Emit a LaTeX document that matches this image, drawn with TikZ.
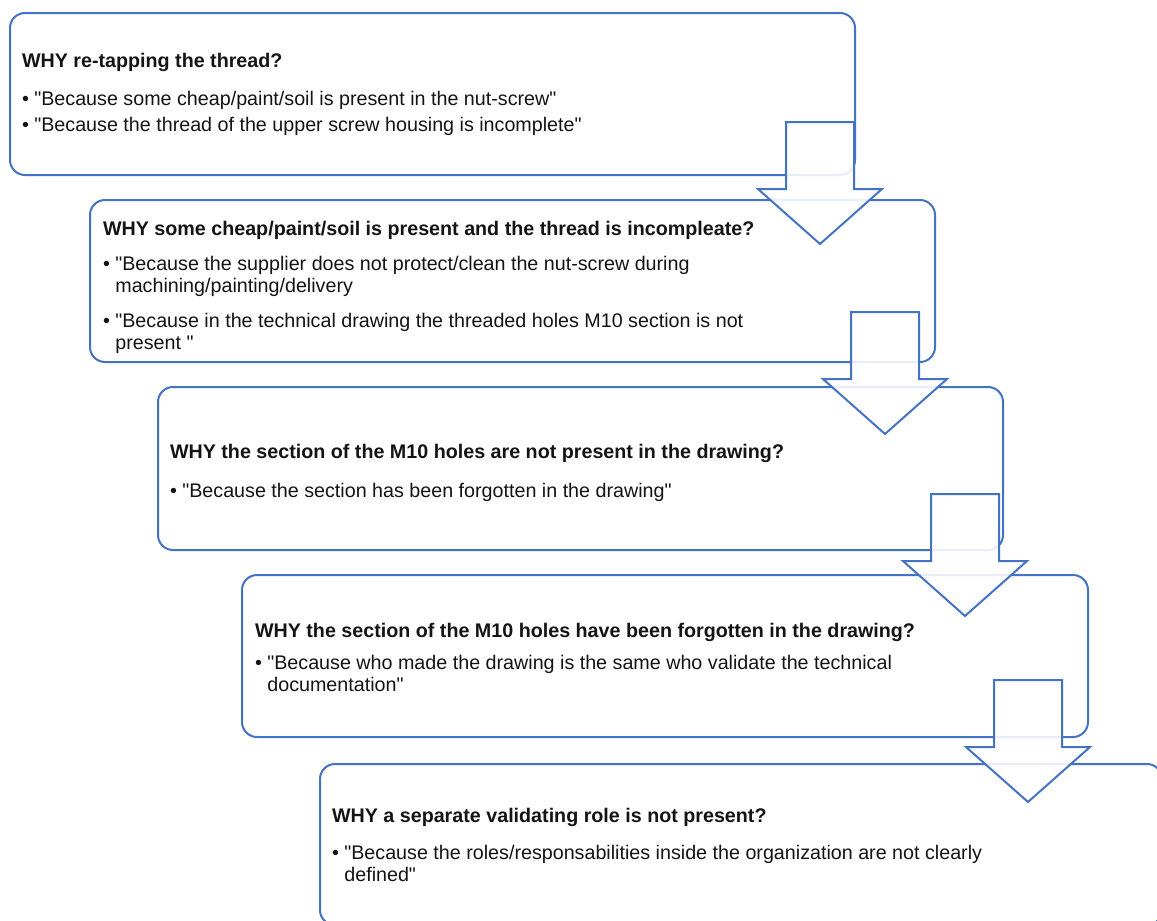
\documentclass[tikz,border=0pt]{standalone}
\usepackage{fontspec}
\setmainfont{Liberation Sans}[Ligatures=TeXOff]
\definecolor{frameblue}{HTML}{4472C4}
\definecolor{ink}{HTML}{141414}
\tikzset{
  whybox/.style={draw=frameblue, line width=2pt, rounded corners=15pt, fill=white,
    anchor=north west, inner sep=0pt, outer sep=0pt},
  txt/.style={anchor=base west, inner sep=0pt, outer sep=0pt, text=ink,
    font=\fontsize{19.7}{23}\selectfont},
  head/.style={txt, font=\fontsize{19.7}{23}\selectfont\bfseries},
  downarrow/.pic={
    \draw[frameblue, line width=2pt, fill=white, fill opacity=0.88, line join=miter]
      (-34,0) -- (34,0) -- (34,67) -- (62,67) -- (0,122) -- (-62,67) -- (-34,67) -- cycle;
  }
}
\newcommand{\hang}{\phantom{•}\ }
\begin{document}
\begin{tikzpicture}[x=1pt, y=-1pt]
\clip (0,0) rectangle (1157,921);
\fill[white] (0,0) rectangle (1157,921);

% the five question boxes
\node[whybox, minimum width=845pt, minimum height=162pt] (box1) at (10,13) {};
\node[whybox, minimum width=845pt, minimum height=162pt] (box2) at (90,200) {};
\node[whybox, minimum width=845pt, minimum height=163pt] (box3) at (158,387) {};
\node[whybox, minimum width=846pt, minimum height=162pt] (box4) at (242,575) {};
\node[whybox, minimum width=842pt, minimum height=161pt] (box5) at (320,764) {};

% block arrows leading from one question to the next
\pic (arrow1) at (820,122) {downarrow};
\pic (arrow2) at (885,312) {downarrow};
\pic (arrow3) at (965,494) {downarrow};
\pic (arrow4) at (1028,680) {downarrow};

% box 1
\node[head] (q1) at (22,67) {WHY re-tapping the thread?};
\node[txt] (q1a) at (22,105) {• "Because some cheap/paint/soil is present in the nut-screw"};
\node[txt] (q1b) at (22,131) {• "Because the thread of the upper screw housing is incomplete"};

% box 2
\node[head] (q2) at (103,235) {WHY some cheap/paint/soil is present and the thread is incompleate?};
\node[txt] (q2a) at (103,270) {• "Because the supplier does not protect/clean the nut-screw during};
\node[txt] (q2b) at (103,292) {\hang machining/painting/delivery};
\node[txt] (q2c) at (103,327) {• "Because in the technical drawing the threaded holes M10 section is not};
\node[txt] (q2d) at (103,349) {\hang present "};

% box 3
\node[head] (q3) at (170,458) {WHY the section of the M10 holes are not present in the drawing?};
\node[txt] (q3a) at (170,497) {• "Because the section has been forgotten in the drawing"};

% box 4
\node[head] (q4) at (255,637) {WHY the section of the M10 holes have been forgotten in the drawing?};
\node[txt] (q4a) at (255,669) {• "Because who made the drawing is the same who validate the technical};
\node[txt] (q4b) at (255,691) {\hang documentation"};

% box 5
\node[head] (q5) at (332,822) {WHY a separate validating role is not present?};
\node[txt] (q5a) at (332,859) {• "Because the roles/responsabilities inside the organization are not clearly};
\node[txt] (q5b) at (332,881) {\hang defined"};
\end{tikzpicture}
\end{document}
